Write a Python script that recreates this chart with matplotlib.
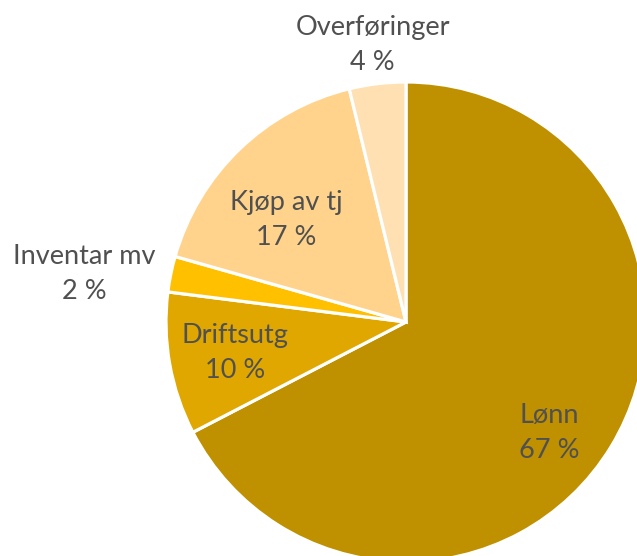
import matplotlib
matplotlib.use("Agg")
import matplotlib.pyplot as plt
import numpy as np

categories = ["Lønn", "Driftsutg", "Inventar mv", "Kjøp av tj", "Overføringer"]
values = [67.4, 9.6, 2.4, 16.8, 3.8]
colors = ["#BF9000", "#DFA700", "#FFC000", "#FFD38B", "#FFE0B3"]
label_dist = [0.754, 0.723, 1.354, 0.656, 1.162]
label_turn = [-6.4, 0.2, 3.1, 5.5, 0.0]

W, H = 637, 556
fig = plt.figure(figsize=(W / 100, H / 100), dpi=100)
cx, cy, r = 406, 556 - 322, 240
ax = fig.add_axes([(cx - r) / W, (cy - r) / H, 2 * r / W, 2 * r / H])
wedges, _ = ax.pie(values, colors=colors, startangle=90, counterclock=False,
                   radius=1.0, wedgeprops=dict(edgecolor="white", linewidth=2.3))
for w in wedges:
    w.set_clip_on(False)
ax.set_xlim(-1, 1)
ax.set_ylim(-1, 1)
ax.set_aspect("equal")
ax.axis("off")

total = sum(values)
for w, name, v, d, t in zip(wedges, categories, values, label_dist, label_turn):
    ang = np.deg2rad((w.theta1 + w.theta2) / 2 + t)
    x, y = d * np.cos(ang), d * np.sin(ang)
    ax.text(x, y, f"{name}\n{round(v / total * 100)} %", ha="center", va="center",
            fontsize=19.5, color="#505050", family="Lato", linespacing=1.5)

fig.savefig("out.png", dpi=100)
